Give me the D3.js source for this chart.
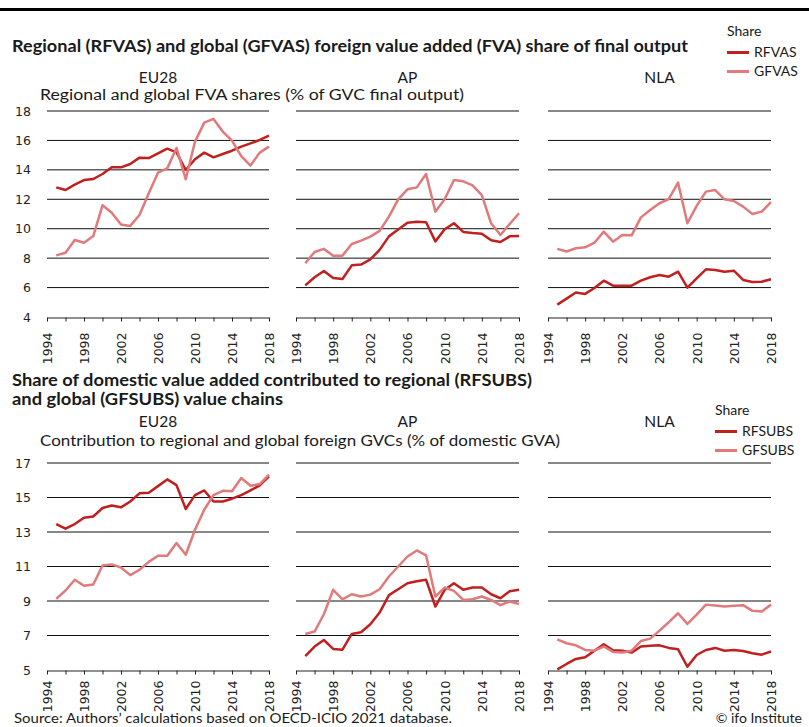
<!DOCTYPE html>
<html><head><meta charset="utf-8">
<script src="https://cdn.jsdelivr.net/npm/d3@7"></script>
<style>
body{margin:0;background:#fff;}
svg{display:block;}
.t{font-family:Lato,"Open Sans",sans-serif;fill:#1a1a1a;}
.tick text{font-family:"DejaVu Sans",sans-serif;}
</style></head><body>
<script>
const years = d3.range(1995, 2019);
const regions = ["EU28", "AP", "NLA"];
const xTickLabels = [1994, 1998, 2002, 2006, 2010, 2014, 2018];
const fvaTicks = [4, 6, 8, 10, 12, 14, 16, 18];
const subsTicks = [5, 7, 9, 11, 13, 15, 17];

// Top: FVA shares
const rfvasEU28 = [12.81,12.63,13.0,13.31,13.38,13.72,14.17,14.17,14.4,14.83,14.8,15.12,15.44,15.19,13.99,14.72,15.17,14.85,15.08,15.3,15.58,15.8,16.03,16.32];
const gfvasEU28 = [8.19,8.37,9.23,9.05,9.5,11.59,11.09,10.28,10.19,10.93,12.41,13.81,14.1,15.49,13.36,15.92,17.21,17.46,16.6,15.98,14.94,14.29,15.17,15.58];
const rfvasAP = [6.15,6.70,7.13,6.65,6.58,7.51,7.56,7.92,8.56,9.48,9.94,10.41,10.48,10.44,9.14,9.96,10.37,9.78,9.71,9.66,9.21,9.1,9.48,9.5];
const gfvasAP = [7.65,8.42,8.63,8.17,8.17,8.96,9.19,9.46,9.85,10.82,12.0,12.68,12.81,13.72,11.16,12.0,13.31,13.22,12.95,12.29,10.37,9.57,10.32,11.05];
const rfvasNLA = [4.84,5.25,5.66,5.57,5.97,6.47,6.13,6.13,6.13,6.47,6.70,6.86,6.74,7.08,6.0,6.63,7.24,7.2,7.08,7.15,6.52,6.38,6.4,6.56];
const gfvasNLA = [8.63,8.45,8.67,8.74,9.05,9.8,9.12,9.57,9.55,10.77,11.27,11.73,12.02,13.13,10.37,11.55,12.52,12.63,12.0,11.88,11.5,11.0,11.16,11.8];

// Bottom: SUBS shares
const rfsubsEU28 = [13.46,13.19,13.46,13.83,13.9,14.39,14.54,14.43,14.77,15.24,15.28,15.66,16.05,15.72,14.33,15.14,15.41,14.77,14.77,14.93,15.14,15.41,15.70,16.23];
const gfsubsEU28 = [9.12,9.61,10.23,9.88,9.96,11.06,11.12,10.94,10.5,10.81,11.27,11.62,11.62,12.36,11.68,13.13,14.29,15.14,15.39,15.36,16.13,15.68,15.78,16.32];
const rfsubsAP = [5.81,6.36,6.74,6.22,6.18,7.09,7.19,7.65,8.33,9.34,9.68,10.03,10.15,10.23,8.68,9.65,10.03,9.65,9.78,9.78,9.39,9.16,9.57,9.65];
const gfsubsAP = [7.09,7.23,8.23,9.65,9.1,9.39,9.26,9.37,9.68,10.42,11.0,11.58,11.93,11.64,9.26,9.78,9.59,9.06,9.1,9.26,9.06,8.76,8.97,8.83];
const rfsubsNLA = [5.04,5.35,5.64,5.74,6.12,6.49,6.14,6.12,6.01,6.36,6.41,6.43,6.28,6.2,5.19,5.87,6.16,6.28,6.12,6.16,6.1,5.97,5.89,6.07];
const gfsubsNLA = [6.78,6.55,6.43,6.16,6.12,6.36,6.05,6.01,6.12,6.68,6.82,7.28,7.77,8.29,7.67,8.21,8.79,8.74,8.68,8.72,8.76,8.43,8.39,8.79];

const darkRed = "#c0201f", lightRed = "#e07a7b";

const W = 809, H = 727;
const svg = d3.select("body").append("svg").attr("width", W).attr("height", H);

// top rule
svg.append("rect").attr("x", 0).attr("y", 8).attr("width", W).attr("height", 3).attr("fill", "#000");

const panelX = [[47, 269], [296, 519], [548, 771]];

function drawSection(cfg) {
  const y = d3.scaleLinear().domain(cfg.domain).range(cfg.yRange);
  regions.forEach((reg, i) => {
    const x = d3.scaleLinear().domain([1994, 2018]).range(panelX[i]);
    const g = svg.append("g");
    cfg.ticks.slice(1).forEach(v => {
      g.append("line").attr("x1", panelX[i][0]).attr("x2", panelX[i][1])
        .attr("y1", y(v)).attr("y2", y(v)).attr("stroke", "#111").attr("stroke-width", 1);
    });
    if (i === 0) {
      const ya = d3.axisLeft(y).tickValues(cfg.ticks).tickSize(0).tickPadding(0);
      const yg = svg.append("g").attr("transform", `translate(31,0)`).call(ya);
      yg.select(".domain").remove();
      yg.selectAll("text").attr("font-size", 12.5).attr("fill", "#222");
    }
    const xa = d3.axisBottom(x).tickValues(d3.range(1994, 2019, 2)).tickSize(4).tickSizeOuter(0)
      .tickFormat(d => xTickLabels.includes(d) ? d : "");
    const xg = g.append("g").attr("transform", `translate(0,${Math.round(y(cfg.domain[0])) + 0.5})`).call(xa);
    xg.select(".domain").attr("stroke", "#222");
    xg.selectAll(".tick line").attr("stroke", "#222");
    xg.selectAll("text").attr("font-size", 12.5).attr("fill", "#222")
      .attr("transform", "rotate(-90)").attr("text-anchor", "end")
      .attr("x", -cfg.labOff).attr("y", 0).attr("dy", "0.35em");
    const line = d3.line().x((d, k) => x(years[k])).y(d => y(d));
    cfg.series[i].forEach((s, k) => {
      g.append("path").datum(s).attr("d", line).attr("fill", "none")
        .attr("stroke", k === 0 ? darkRed : lightRed).attr("stroke-width", 2.5)
        .attr("stroke-linejoin", "round");
    });
    svg.append("text").attr("class", "t").attr("x", (panelX[i][0] + panelX[i][1]) / 2)
      .attr("y", cfg.facetY).attr("text-anchor", "middle").attr("font-size", 15.5).text(reg);
  });
  svg.append("text").attr("class", "t").attr("x", 40).attr("y", cfg.subY)
    .attr("font-size", 15.5).attr("textLength", cfg.subLen).attr("lengthAdjust", "spacingAndGlyphs").text(cfg.subtitle);
  cfg.titles.forEach((t, j) => {
    svg.append("text").attr("class", "t").attr("x", 12).attr("y", t.y)
      .attr("font-size", 17).attr("font-weight", "bold")
      .attr("textLength", t.len).attr("lengthAdjust", "spacingAndGlyphs").text(t.text);
  });
  const L = cfg.legend;
  svg.append("text").attr("class", "t").attr("x", L.x).attr("y", L.y).attr("font-size", 14).text("Share");
  L.names.forEach((n, k) => {
    const yy = L.y + 21 + k * 19;
    svg.append("line").attr("x1", L.x).attr("x2", L.x + 22).attr("y1", yy - 4.5).attr("y2", yy - 4.5)
      .attr("stroke", k === 0 ? darkRed : lightRed).attr("stroke-width", 3);
    svg.append("text").attr("class", "t").attr("x", L.x + 27).attr("y", yy).attr("font-size", 14).text(n);
  });
}

drawSection({
  domain: [4, 18], yRange: [317, 111], ticks: fvaTicks, labOff: 15,
  series: [[rfvasEU28, gfvasEU28], [rfvasAP, gfvasAP], [rfvasNLA, gfvasNLA]],
  facetY: 83, subY: 100, subLen: 424,
  subtitle: "Regional and global FVA shares (% of GVC final output)",
  titles: [{y: 52, len: 676, text: "Regional (RFVAS) and global (GFVAS) foreign value added (FVA) share of final output"}],
  legend: {x: 727, y: 36, names: ["RFVAS", "GFVAS"]}
});

drawSection({
  domain: [5, 17], yRange: [670, 463], ticks: subsTicks, labOff: 10,
  series: [[rfsubsEU28, gfsubsEU28], [rfsubsAP, gfsubsAP], [rfsubsNLA, gfsubsNLA]],
  facetY: 427, subY: 446, subLen: 520,
  subtitle: "Contribution to regional and global foreign GVCs (% of domestic GVA)",
  titles: [{y: 386, len: 520, text: "Share of domestic value added contributed to regional (RFSUBS)"},
           {y: 405, len: 271, text: "and global (GFSUBS) value chains"}],
  legend: {x: 715, y: 415, names: ["RFSUBS", "GFSUBS"]}
});

svg.append("text").attr("class", "t").attr("x", 14).attr("y", 723).attr("font-size", 14)
  .attr("textLength", 438).attr("lengthAdjust", "spacingAndGlyphs")
  .text("Source: Authors’ calculations based on OECD-ICIO 2021 database.");
svg.append("text").attr("class", "t").attr("x", 802).attr("y", 723).attr("font-size", 14)
  .attr("text-anchor", "end").text("© ifo Institute");
</script>
</body></html>
